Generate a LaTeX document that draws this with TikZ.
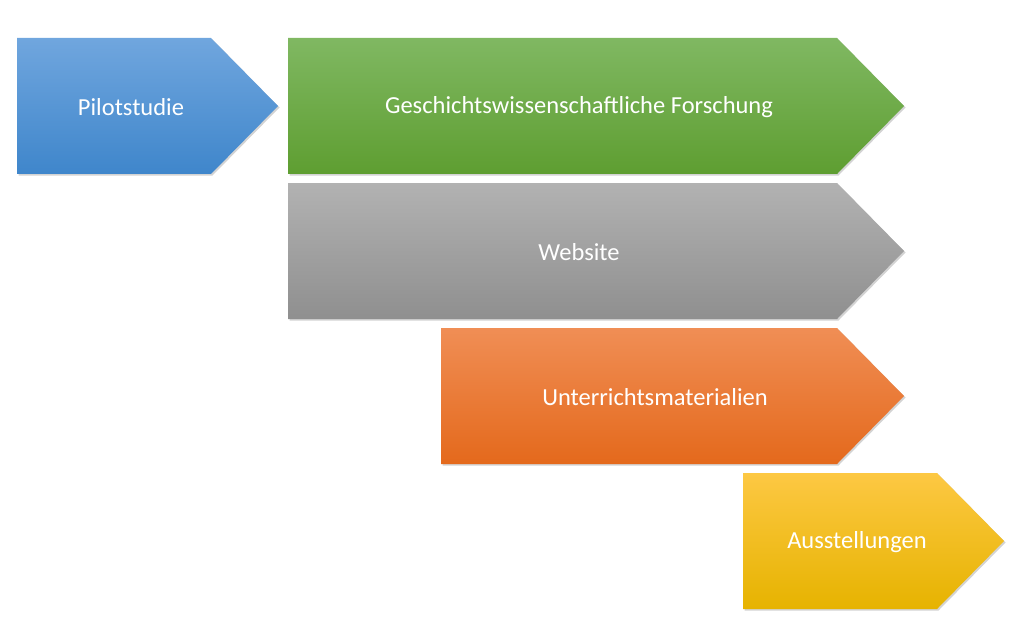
\documentclass[tikz,border=0pt]{standalone}
\usepackage{fontspec}
\setmainfont{Carlito}
\usetikzlibrary{shadows}

\definecolor{bluetop}{HTML}{70A6DE}
\definecolor{bluemid}{HTML}{5597D8}
\definecolor{bluebot}{HTML}{3F86CB}
\definecolor{greentop}{HTML}{80B862}
\definecolor{greenmid}{HTML}{6AAD3F}
\definecolor{greenbot}{HTML}{5E9E31}
\definecolor{graytop}{HTML}{B2B2B2}
\definecolor{graymid}{HTML}{A3A3A3}
\definecolor{graybot}{HTML}{8F8F8F}
\definecolor{orangetop}{HTML}{F08E55}
\definecolor{orangemid}{HTML}{F37A2A}
\definecolor{orangebot}{HTML}{E4691C}
\definecolor{yellowtop}{HTML}{FDC843}
\definecolor{yellowmid}{HTML}{FEC60E}
\definecolor{yellowbot}{HTML}{E6B300}

\tikzset{
  stage/.style={drop shadow={shadow xshift=1.5pt, shadow yshift=-1.5pt, opacity=0.35}},
  label/.style={text=white, font=\fontsize{24.5}{29}\selectfont}
}

\begin{document}
\begin{tikzpicture}[x=1pt, y=-1pt]
    \useasboundingbox (0,0) rectangle (1024,631);

    % Pilot study
    \shade[stage, top color=bluetop, middle color=bluemid, bottom color=bluebot]
        (17,38) -- (211,38) -- (278,106) -- (211,174) -- (17,174) -- cycle;
    \node[label] (pilot) at (131,107) {Pilotstudie};

    % Research
    \shade[stage, top color=greentop, middle color=greenmid, bottom color=greenbot]
        (288,38) -- (837,38) -- (904,106) -- (837,174) -- (288,174) -- cycle;
    \node[label] (research) at (579,107) {Geschichtswissenschaftliche Forschung};

    % Website
    \shade[stage, top color=graytop, middle color=graymid, bottom color=graybot]
        (288,183) -- (837,183) -- (904,251) -- (837,319) -- (288,319) -- cycle;
    \node[label] (website) at (579,252) {Website};

    % Teaching materials
    \shade[stage, top color=orangetop, middle color=orangemid, bottom color=orangebot]
        (441,328) -- (837,328) -- (904,396) -- (837,464) -- (441,464) -- cycle;
    \node[label] (teaching) at (655,397) {Unterrichtsmaterialien};

    % Exhibitions
    \shade[stage, top color=yellowtop, middle color=yellowmid, bottom color=yellowbot]
        (743,473) -- (937,473) -- (1004,541) -- (937,609) -- (743,609) -- cycle;
    \node[label] (exhibit) at (857,542) {Ausstellungen};
\end{tikzpicture}
\end{document}
